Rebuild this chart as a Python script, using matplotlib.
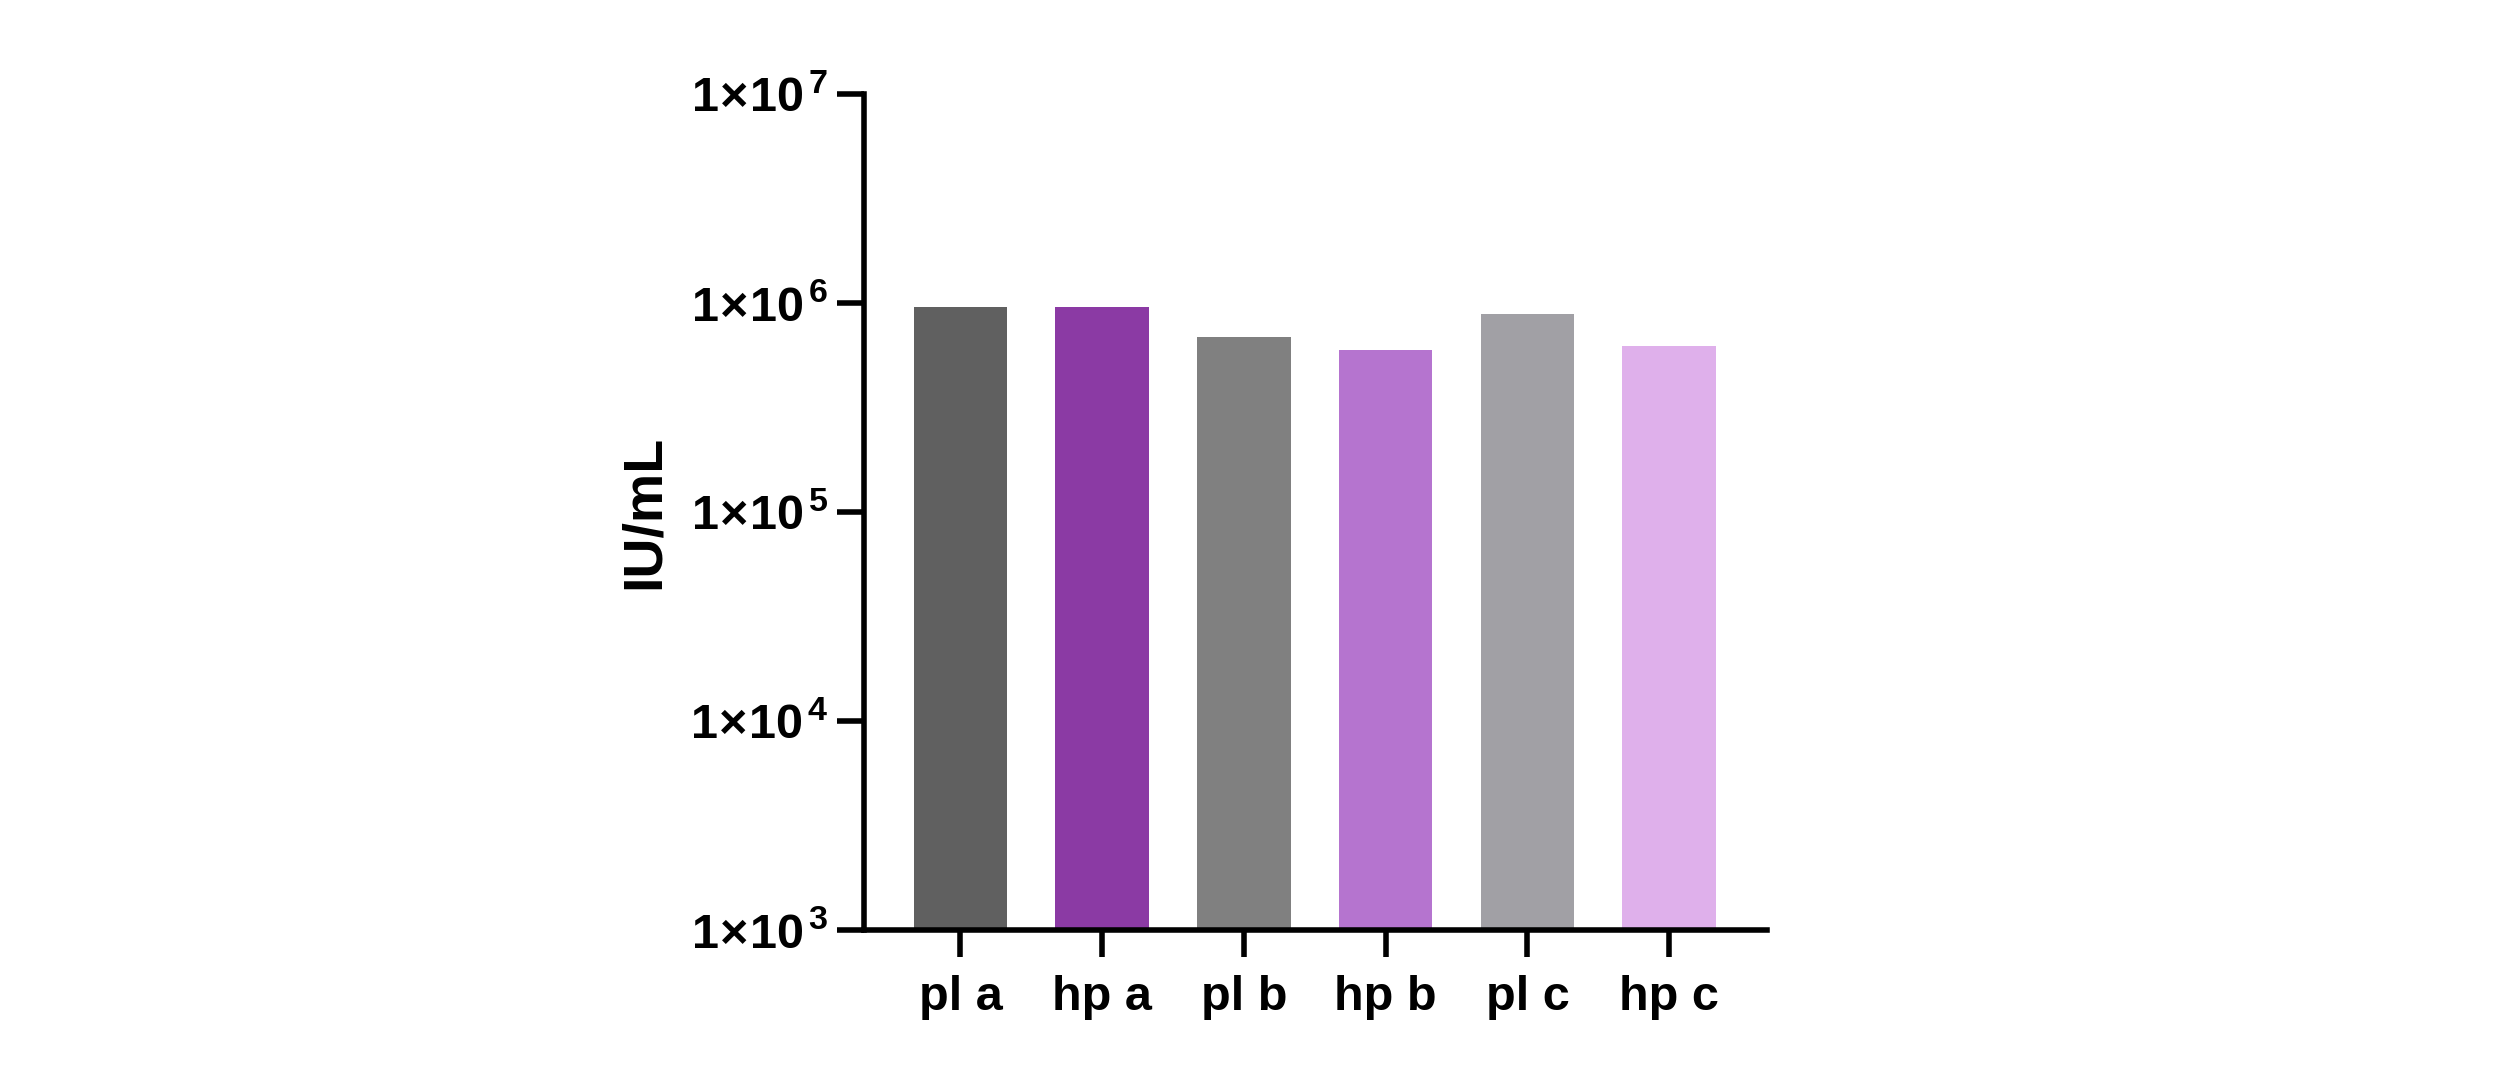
import numpy as np
import matplotlib
matplotlib.use('Agg')
import matplotlib.pyplot as plt
from matplotlib.ticker import FixedLocator, FuncFormatter

plt.rcParams['font.family'] = ['Liberation Sans', 'DejaVu Sans']
plt.rcParams['font.weight'] = 'bold'
plt.rcParams['mathtext.fontset'] = 'custom'
plt.rcParams['mathtext.rm'] = 'Liberation Sans:bold'
plt.rcParams['mathtext.bf'] = 'Liberation Sans:bold'
plt.rcParams['mathtext.it'] = 'Liberation Sans:bold'

# datos
muestras = ['pl a', 'hp a', 'pl b', 'hp b', 'pl c', 'hp c']
valores = [950000, 950000, 686000, 592000, 884000, 621000]
colores = ['#606060', '#8B3AA4', '#808080', '#B574CF', '#A1A0A5', '#DFB0EB']
decadas = [3, 4, 5, 6, 7]

fig = plt.figure(figsize=(25, 10.8), dpi=100)
ax = fig.add_axes([0.3456, 0.139, 0.7068 - 0.3456, 0.913 - 0.139])

x = np.arange(len(muestras))
ax.bar(x, valores, width=0.66, color=colores, bottom=1e3)

ax.set_yscale('log')
ax.set_ylim(1e3, 1e7)
ax.set_xlim(-0.68, len(muestras) - 1 + 0.69)

ax.yaxis.set_major_locator(FixedLocator([10.0 ** d for d in decadas]))
ax.yaxis.set_minor_locator(FixedLocator([]))
ax.yaxis.set_major_formatter(FuncFormatter(
    lambda v, pos: r'$1\!\times\!10^{\,%d}$' % int(round(np.log10(v)))))

ax.set_xticks(x)
ax.set_xticklabels(muestras)

for lado in ['top', 'right']:
    ax.spines[lado].set_visible(False)
for lado in ['left', 'bottom']:
    ax.spines[lado].set_linewidth(4)

ax.tick_params(axis='both', which='major', length=19.5, width=4,
               labelsize=35, pad=6)
ax.tick_params(axis='x', pad=13)
for t in ax.get_xticklabels() + ax.get_yticklabels():
    t.set_fontweight('bold')

ax.set_ylabel('IU/mL', fontsize=40, fontweight='bold', labelpad=14)

fig.savefig('out.png', dpi=100)
